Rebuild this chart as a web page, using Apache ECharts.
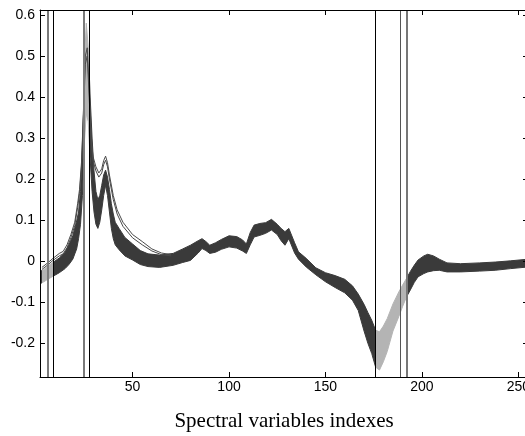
<!DOCTYPE html>
<html><head><meta charset="utf-8">
<script src="https://cdn.jsdelivr.net/npm/echarts@6/dist/echarts.min.js"></script>
<style>html,body{margin:0;padding:0;background:#fff}#c{width:525px;height:436px}</style>
</head><body><div id="c"></div>
<script>
// Spectral band (envelope of the many spectra)
const bandX = [2,4,6,9,12,15,17,19,21,22,23,24,24.5,25,26,27,27.3,28,29,30,31,32,33,34,35,36,37,38,39,40,41,43,46,50,54,58,64,71,76,80,84,86,88,90,93,96,100,104,107,109,111,113,116,119,122,125,127,129,131,132,134,136,140,145,150,155,160,164,167,170,172,174,176,178,180,182,185,188,190,192,194,196,198,201,203,206,209,213,220,230,238,246,255];
const bandUpper = [-0.025,-0.02,-0.012,-0.002,0.008,0.022,0.04,0.062,0.098,0.12,0.17,0.27,0.36,0.48,0.58,0.52,0.49,0.4,0.3,0.22,0.17,0.15,0.16,0.185,0.21,0.222,0.205,0.175,0.14,0.115,0.095,0.08,0.058,0.042,0.026,0.018,0.015,0.019,0.03,0.039,0.05,0.055,0.048,0.039,0.045,0.053,0.062,0.06,0.052,0.042,0.07,0.088,0.092,0.094,0.102,0.09,0.08,0.072,0.08,0.082,0.045,0.023,0.007,-0.016,-0.028,-0.035,-0.044,-0.06,-0.08,-0.105,-0.125,-0.144,-0.168,-0.172,-0.158,-0.14,-0.104,-0.075,-0.058,-0.042,-0.025,-0.01,0.003,0.013,0.017,0.013,0.005,-0.004,-0.006,-0.004,-0.002,0.001,0.005];
const bandLower = [-0.055,-0.05,-0.044,-0.036,-0.028,-0.018,-0.008,0.005,0.03,0.055,0.09,0.16,0.23,0.29,0.36,0.34,0.31,0.25,0.17,0.12,0.09,0.08,0.095,0.125,0.16,0.185,0.16,0.12,0.08,0.055,0.04,0.028,0.013,0.003,-0.008,-0.013,-0.015,-0.01,-0.003,0.002,0.02,0.031,0.026,0.019,0.022,0.029,0.035,0.032,0.025,0.019,0.04,0.059,0.063,0.068,0.076,0.065,0.05,0.039,0.055,0.058,0.02,0.005,-0.014,-0.033,-0.05,-0.064,-0.077,-0.095,-0.12,-0.17,-0.2,-0.225,-0.258,-0.265,-0.245,-0.22,-0.17,-0.135,-0.11,-0.087,-0.07,-0.052,-0.038,-0.03,-0.026,-0.023,-0.022,-0.026,-0.026,-0.024,-0.022,-0.018,-0.014];

// Two outlying spectra
const outlierX = [3,6,9,12,14,16,18,20,21.5,22.5,23.5,24.5,25.5,26.5,27.5,28.5,29.5,31,32.5,34,35,36,37,38,40,42,45,50,55,60,65,70];
const outlierA = [-0.015,-0.004,0.008,0.019,0.024,0.04,0.065,0.095,0.14,0.175,0.24,0.36,0.5,0.52,0.42,0.3,0.255,0.23,0.215,0.225,0.245,0.256,0.24,0.21,0.16,0.125,0.095,0.065,0.048,0.03,0.02,0.016];
const outlierB = [-0.02,-0.009,0.003,0.013,0.018,0.033,0.057,0.087,0.13,0.165,0.23,0.35,0.48,0.5,0.4,0.29,0.245,0.22,0.205,0.215,0.235,0.246,0.23,0.2,0.15,0.115,0.085,0.057,0.04,0.025,0.016,0.013];

// Selected variable intervals and their boundary lines
const selectedRanges = [[3,9],[24.5,27.3],[176,192]];
const cutLines = [6, 9, 24.5, 27.3, 176, 189, 192];

const DARK = '#3a3a3a', LIGHT = '#b4b4b4';
const cutStyles = [
  {color:'#7a7a7a', width:2}, {color:'#000', width:1},
  {color:'#7a7a7a', width:2}, {color:'#000', width:1},
  {color:'#000', width:1}, {color:'#555', width:1}, {color:'#777', width:2}
];

const upperData = bandX.map((x,i)=>[x, bandUpper[i]]);
const lowerData = bandX.map((x,i)=>[x, bandLower[i]]);

const axisCommon = {
  z:10,
  axisLine:{onZero:false, lineStyle:{color:'#000', width:1}},
  axisTick:{inside:true, length:5, lineStyle:{color:'#000'}},
  splitLine:{show:false}
};
const labelStyle = {color:'#000', fontFamily:'"Liberation Sans", Arial, sans-serif', fontSize:14};

const chart = echarts.init(document.getElementById('c'));
chart.setOption({
  animation:false,
  backgroundColor:'#fff',
  grid:{left:40, right:-3, top:10, bottom:59, containLabel:false, outerBoundsMode:'none'},
  xAxis:[
    Object.assign({type:'value', min:2, max:255, splitNumber:5, position:'bottom',
      axisLabel:Object.assign({margin:3, showMinLabel:false, showMaxLabel:false}, labelStyle),
      name:'Spectral variables indexes', nameLocation:'middle', nameGap:34,
      nameTextStyle:{fontFamily:'"Liberation Serif", "Times New Roman", serif', fontSize:21, color:'#000'}
    }, axisCommon),
    Object.assign({type:'value', min:2, max:255, splitNumber:5, position:'top', axisLabel:{show:false}}, axisCommon)
  ],
  yAxis:[
    Object.assign({type:'value', min:-0.282, max:0.612, splitNumber:9, position:'left',
      axisLabel:Object.assign({margin:5, showMinLabel:false, showMaxLabel:false}, labelStyle)
    }, axisCommon),
    Object.assign({type:'value', min:-0.282, max:0.612, splitNumber:9, position:'right', axisLabel:{show:false}}, axisCommon)
  ],
  visualMap:{
    type:'piecewise', show:false, dimension:0, seriesIndex:[0,1],
    pieces:selectedRanges.map(r=>({gte:r[0], lte:r[1], color:LIGHT})),
    outOfRange:{color:DARK}
  },
  series:[
    {type:'line', data:upperData, symbol:'none', showSymbol:false,
      lineStyle:{width:1}, areaStyle:{opacity:1, origin:'start'}, z:2, silent:true},
    {type:'line', data:lowerData, symbol:'none', showSymbol:false,
      lineStyle:{width:1}, areaStyle:{opacity:1, origin:'start', color:'#fff'}, z:3, silent:true},
    {type:'line', data:outlierX.map((x,i)=>[x, outlierA[i]]), symbol:'none', showSymbol:false,
      lineStyle:{color:'#4a4a4a', width:1}, z:4, silent:true,
      markLine:{silent:true, symbol:['none','none'], label:{show:false}, animation:false,
        data:cutLines.map((v,i)=>({xAxis:v, lineStyle:Object.assign({type:'solid'}, cutStyles[i])}))}
    },
    {type:'line', data:outlierX.map((x,i)=>[x, outlierB[i]]), symbol:'none', showSymbol:false,
      lineStyle:{color:'#4a4a4a', width:1}, z:4, silent:true}
  ]
});
</script></body></html>
